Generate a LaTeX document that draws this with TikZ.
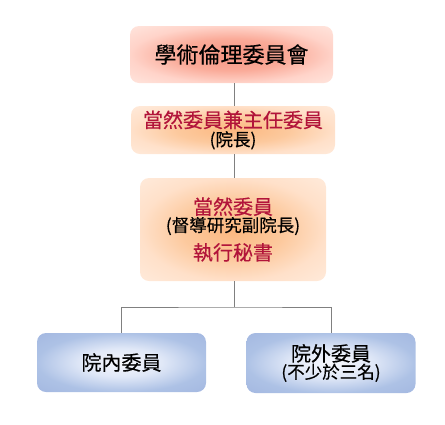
\documentclass[tikz,border=0pt]{standalone}
\usepackage{fontspec}
\newfontfamily\cjk[FakeBold=0.4]{Noto Sans CJK TC}
\definecolor{linegray}{RGB}{128,128,128}
\definecolor{titlered}{RGB}{178,20,58}
\pgfdeclareradialshading{redrad}{\pgfpoint{0bp}{0bp}}{rgb(0bp)=(0.97,0.58,0.51); rgb(14bp)=(0.98,0.67,0.60); rgb(25bp)=(1,0.83,0.79); rgb(36bp)=(1,0.90,0.87); rgb(50bp)=(1,0.90,0.87)}
\pgfdeclareradialshading{orangerad}{\pgfpoint{0bp}{0bp}}{rgb(0bp)=(0.99,0.72,0.50); rgb(14bp)=(0.99,0.79,0.62); rgb(25bp)=(1,0.88,0.79); rgb(36bp)=(1,0.92,0.86); rgb(50bp)=(1,0.92,0.86)}
\pgfdeclareradialshading{bluerad}{\pgfpoint{0bp}{0bp}}{rgb(0bp)=(0.97,0.97,0.99); rgb(12bp)=(0.88,0.91,0.97); rgb(25bp)=(0.68,0.76,0.90); rgb(36bp)=(0.64,0.72,0.88); rgb(50bp)=(0.64,0.72,0.88)}
\tikzset{
  box/.style={rounded corners=9pt, draw=none, align=center, inner sep=0pt, font=\cjk},
  redbox/.style={box, shading=redrad},
  orangebox/.style={box, shading=orangerad},
  bluebox/.style={box, shading=bluerad},
  conn/.style={draw=linegray, line width=1pt},
}
\newcommand{\mainsz}{\fontsize{20}{23}\selectfont}
\newcommand{\subsz}{\fontsize{17.5}{23}\selectfont}
\begin{document}
\begin{tikzpicture}[x=1pt,y=-1pt]
\useasboundingbox (0,0) rectangle (445,424);
\node[redbox, minimum width=203pt, minimum height=57pt, font=\cjk\fontsize{22}{26}\selectfont] (b1) at (231.5,54.5) {學術倫理委員會};
\node[orangebox, minimum width=204pt, minimum height=48pt] (b2) at (233,130)
  {{\mainsz\color{titlered}當然委員兼主任委員}\\[1pt]{\subsz (院長)}};
\node[orangebox, minimum width=186pt, minimum height=103pt] (b3) at (233,229.5)
  {{\mainsz\color{titlered}當然委員}\\{\subsz (督導研究副院長)}\\[7pt]{\mainsz\color{titlered}執行秘書}};
\node[bluebox, minimum width=169pt, minimum height=59pt] (b4) at (121.5,362.5)
  {{\mainsz 院內委員}};
\node[bluebox, minimum width=169pt, minimum height=60pt] (b5) at (331,363)
  {{\mainsz 院外委員}\\{\subsz (不少於三名)}};
\coordinate (j) at (234,307);
\draw[conn] (b1.south -| j) -- (b2.north -| j);
\draw[conn] (b2.south -| j) -- (b3.north -| j);
\draw[conn] (b3.south -| j) -- (j);
\draw[conn] (b4.north) |- (j) -| (b5.north);
\end{tikzpicture}
\end{document}
